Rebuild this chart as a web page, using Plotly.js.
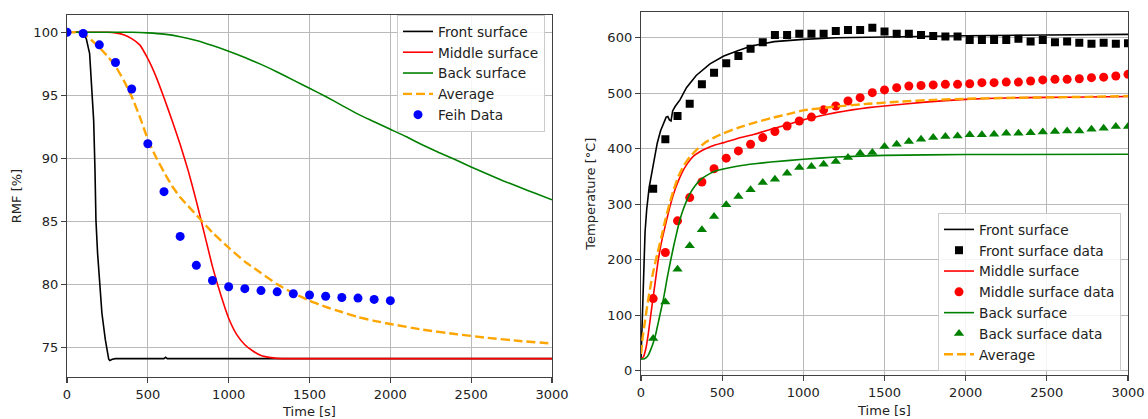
<!DOCTYPE html>
<html>
<head>
<meta charset="utf-8">
<script src="https://cdn.plot.ly/plotly-3.0.1.min.js"></script>
<style>html,body{margin:0;padding:0;background:#fff;}#chart{width:1148px;height:419px;}</style>
</head>
<body>
<div id="chart"></div>
<script>
// ---------- Left panel: RMF [%] ----------
var rmfFrontT = [0, 90, 103, 119, 140, 154, 165, 173, 179, 189, 202, 216, 237, 250, 258, 265, 280, 300, 600, 610, 620, 3000];
var rmfFront  = [100, 100, 99.9, 99.5, 98.3, 95.7, 93.0, 89.1, 85.1, 82.5, 79.8, 77.7, 75.6, 74.5, 74.05, 73.95, 74.05, 74.1, 74.1, 74.2, 74.1, 74.1];

var rmfMidT = [0, 250, 300, 350, 400, 450, 500, 550, 600, 650, 700, 750, 800, 850, 900, 950, 1000, 1050, 1100, 1150, 1200, 1250, 1300, 1400, 3000];
var rmfMid  = [100, 100, 99.95, 99.8, 99.5, 99.0, 97.9, 96.5, 94.8, 93.0, 91.1, 89.0, 86.6, 84.0, 81.4, 79.2, 77.3, 76.0, 75.2, 74.7, 74.35, 74.2, 74.12, 74.1, 74.1];

var rmfBackT = [0, 400, 500, 600, 700, 800, 900, 1000, 1100, 1200, 1300, 1400, 1500, 1600, 1700, 1800, 1900, 2000, 2100, 2200, 2300, 2400, 2500, 2600, 2700, 2800, 2900, 3000];
var rmfBack  = [100, 100, 99.95, 99.85, 99.65, 99.35, 98.95, 98.5, 98.0, 97.45, 96.85, 96.2, 95.55, 94.9, 94.2, 93.5, 92.9, 92.3, 91.7, 91.05, 90.45, 89.9, 89.3, 88.75, 88.2, 87.7, 87.2, 86.7];

var rmfAvgT = [0, 50, 100, 150, 200, 250, 300, 350, 400, 450, 500, 550, 600, 650, 700, 750, 800, 900, 1000, 1100, 1200, 1300, 1400, 1500, 1600, 1700, 1800, 1900, 2000, 2200, 2400, 2600, 2800, 3000];
var rmfAvg  = [100, 100, 99.9, 99.4, 98.8, 98.1, 97.3, 96.2, 94.9, 93.3, 91.5, 90.1, 88.9, 87.8, 86.9, 86.2, 85.5, 84.1, 82.9, 81.8, 80.9, 80.0, 79.3, 78.7, 78.2, 77.8, 77.4, 77.1, 76.85, 76.4, 76.05, 75.75, 75.5, 75.3];

var feihT = [0, 100, 200, 300, 400, 500, 600, 700, 800, 900, 1000, 1100, 1200, 1300, 1400, 1500, 1600, 1700, 1800, 1900, 2000];
var feih  = [100, 99.9, 99.0, 97.6, 95.5, 91.15, 87.35, 83.8, 81.5, 80.3, 79.8, 79.65, 79.5, 79.4, 79.25, 79.15, 79.05, 78.95, 78.9, 78.8, 78.7];

// ---------- Right panel: Temperature [°C] ----------
var tFrontT = [0, 8, 15, 25, 35, 50, 75, 100, 120, 140, 155, 165, 175, 185, 195, 210, 240, 280, 340, 425, 510, 600, 680, 820, 1000, 1200, 1500, 2000, 2500, 3000];
var tFront  = [20, 100, 170, 250, 290, 330, 370, 410, 432, 448, 457, 458, 452, 450, 468, 476, 488, 510, 532, 553, 567, 577, 585, 593, 597, 600, 601.8, 603.6, 605, 606];

var tMidT = [0, 15, 30, 45, 60, 75, 90, 105, 125, 150, 175, 200, 230, 260, 290, 325, 365, 405, 460, 510, 600, 700, 800, 900, 1000, 1100, 1200, 1300, 1400, 1500, 1750, 2000, 2250, 2500, 2750, 3000];
var tMid  = [22, 25, 40, 67, 100, 133, 165, 197, 230, 262, 292, 318, 342, 361, 375, 387, 395, 401, 407, 411, 419, 426, 435, 443, 452, 459, 465, 470, 474, 477, 484, 489, 491.5, 492.5, 493.2, 494];

var tBackT = [0, 15, 30, 45, 60, 75, 90, 105, 120, 140, 160, 180, 200, 225, 250, 275, 300, 330, 365, 400, 450, 500, 600, 700, 800, 1000, 1200, 1500, 2000, 3000];
var tBack  = [22, 21, 23, 28, 38, 50, 65, 85, 105, 132, 165, 195, 223, 255, 282, 302, 318, 332, 344, 351, 359, 363, 369, 373, 376, 381, 385, 388, 389.5, 390];

var tAvgT = [0, 10, 25, 40, 60, 75, 100, 125, 150, 175, 200, 230, 260, 300, 350, 400, 450, 500, 600, 700, 800, 900, 1000, 1200, 1400, 1600, 1800, 2000, 2250, 2500, 2750, 3000];
var tAvg  = [30, 60, 90, 120, 155, 178, 210, 240, 272, 300, 325, 350, 368, 385, 400, 412, 420, 427, 438, 447, 455, 462, 469, 476, 481, 485, 488, 490, 491.5, 492.5, 493.5, 495];

var dataT = [75, 150, 225, 300, 375, 450, 525, 600, 675, 750, 825, 900, 975, 1050, 1125, 1200, 1275, 1350, 1425, 1500, 1575, 1650, 1725, 1800, 1875, 1950, 2025, 2100, 2175, 2250, 2325, 2400, 2475, 2550, 2625, 2700, 2775, 2850, 2925, 3000];
var frontData = [328, 417, 459, 481, 516, 537, 554, 567, 580, 592, 605, 605, 607, 607, 607, 612, 614, 614, 618, 611, 607, 607, 605, 603, 602, 602, 596, 596, 596, 596, 598, 593, 596, 592, 593, 591, 589, 591, 589, 590];
var midData   = [130, 213, 270, 312, 340, 364, 383, 396, 408, 420, 431, 441, 450, 457, 470, 477, 486, 492, 501, 506, 510, 513, 514, 515, 516, 516, 517, 519, 519, 520, 520, 522, 524, 525, 525, 526, 528, 529, 531, 534];
var backData  = [58, 124, 183, 225, 254, 278, 299, 314, 326, 339, 345, 356, 366, 368, 372, 377, 384, 392, 393, 404, 408, 413, 417, 420, 422, 423, 425, 425, 426, 428, 428, 429, 430, 431, 432, 432, 435, 437, 440, 440];

var xTicks = [0, 500, 1000, 1500, 2000, 2500, 3000];
var rmfTicks = [75, 80, 85, 90, 95, 100];
var tempTicks = [0, 100, 200, 300, 400, 500, 600];

var C = {black: '#000000', red: '#ff0000', green: '#008000', orange: '#ffa500', blue: '#0000ff'};
var FONT = 'DejaVu Sans, Verdana, sans-serif';

function line(x, y, name, color, xa, ya, leg, opts) {
  opts = opts || {};
  return {
    x: x, y: y, name: name, type: 'scatter', mode: 'lines',
    xaxis: xa, yaxis: ya, legend: leg,
    line: {color: color, width: opts.width || 1.6, dash: opts.dash || 'solid', shape: opts.shape || 'spline', smoothing: 0.5}
  };
}
function pts(x, y, name, color, symbol, size, xa, ya, leg) {
  return {
    x: x, y: y, name: name, type: 'scatter', mode: 'markers',
    xaxis: xa, yaxis: ya, legend: leg,
    marker: {color: color, symbol: symbol, size: size}
  };
}

var traces = [
  line(rmfFrontT, rmfFront, 'Front surface', C.black, 'x', 'y', 'legend', {shape: 'linear'}),
  line(rmfMidT, rmfMid, 'Middle surface', C.red, 'x', 'y', 'legend'),
  line(rmfBackT, rmfBack, 'Back surface', C.green, 'x', 'y', 'legend'),
  line(rmfAvgT, rmfAvg, 'Average', C.orange, 'x', 'y', 'legend', {dash: '9px,4px', width: 2.4}),
  pts(feihT, feih, 'Feih Data', C.blue, 'circle', 9, 'x', 'y', 'legend'),

  line(tFrontT, tFront, 'Front surface', C.black, 'x2', 'y2', 'legend2', {shape: 'linear'}),
  pts(dataT, frontData, 'Front surface data', C.black, 'square', 8, 'x2', 'y2', 'legend2'),
  line(tMidT, tMid, 'Middle surface', C.red, 'x2', 'y2', 'legend2'),
  pts(dataT, midData, 'Middle surface data', C.red, 'circle', 9, 'x2', 'y2', 'legend2'),
  line(tBackT, tBack, 'Back surface', C.green, 'x2', 'y2', 'legend2'),
  pts(dataT, backData, 'Back surface data', C.green, 'triangle-up', 9, 'x2', 'y2', 'legend2'),
  line(tAvgT, tAvg, 'Average', C.orange, 'x2', 'y2', 'legend2', {dash: '9px,4px', width: 2.4})
];

var W = 1148, H = 419;
function axisBase() {
  return {
    showgrid: true, gridcolor: '#bababa', gridwidth: 1,
    showline: true, mirror: true, linecolor: '#404040', linewidth: 1.2,
    ticks: 'outside', ticklen: 5, tickwidth: 1.2, tickcolor: '#404040',
    zeroline: false, fixedrange: true,
    tickfont: {family: FONT, size: 13, color: '#222'}
  };
}
var xa = Object.assign(axisBase(), {domain: [67/W, 552/W], range: [0, 3000], tickvals: xTicks, anchor: 'y',
  title: {text: 'Time [s]', font: {family: FONT, size: 13, color: '#222'}, standoff: 7}});
var ya = Object.assign(axisBase(), {domain: [1 - 377/H, 1 - 15/H], range: [72.64, 101.37], tickvals: rmfTicks, anchor: 'x',
  title: {text: 'RMF [%]', font: {family: FONT, size: 13, color: '#222'}, standoff: 8}});
var xa2 = Object.assign(axisBase(), {domain: [641/W, 1128/W], range: [0, 3000], tickvals: xTicks, anchor: 'y2',
  title: {text: 'Time [s]', font: {family: FONT, size: 13, color: '#222'}, standoff: 7}});
var ya2 = Object.assign(axisBase(), {domain: [1 - 375/H, 1 - 12.3/H], range: [-7.7, 645.8], tickvals: tempTicks, anchor: 'x2',
  title: {text: 'Temperature [°C]', font: {family: FONT, size: 13, color: '#222'}, standoff: 8}});

var legendBase = {
  bgcolor: 'rgba(255,255,255,0.85)', bordercolor: '#cccccc', borderwidth: 1,
  font: {family: FONT, size: 13.7, color: '#222'}, traceorder: 'normal', tracegroupgap: 0
};

var layout = {
  width: W, height: H,
  margin: {l: 0, r: 0, t: 0, b: 0, pad: 0},
  paper_bgcolor: '#ffffff', plot_bgcolor: '#ffffff',
  showlegend: true,
  xaxis: xa, yaxis: ya, xaxis2: xa2, yaxis2: ya2,
  legend: Object.assign({}, legendBase, {x: 545/W, xanchor: 'right', y: 1 - 15/H, yanchor: 'top'}),
  legend2: Object.assign({}, legendBase, {x: 1121/W, xanchor: 'right', y: 1 - 371/H, yanchor: 'bottom'})
};

Plotly.newPlot('chart', traces, layout, {displayModeBar: false, staticPlot: true});
</script>
</body>
</html>
